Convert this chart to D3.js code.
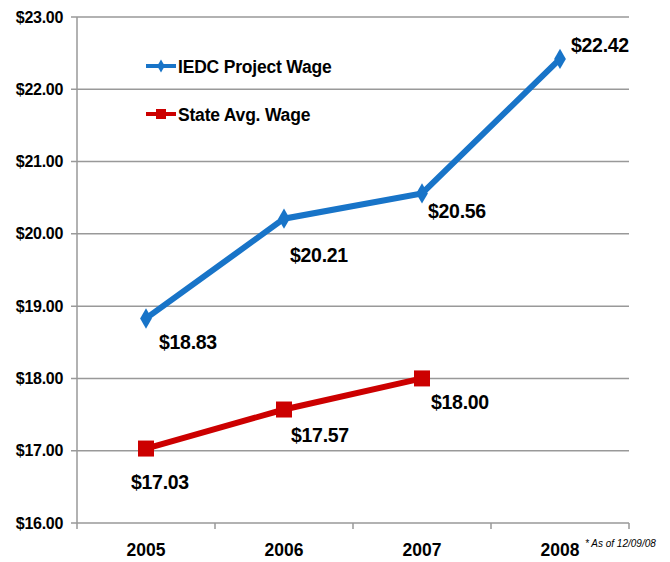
<!DOCTYPE html>
<html><head><meta charset="utf-8">
<script src="https://cdn.jsdelivr.net/npm/d3@7"></script>
<style>body{margin:0;background:#fff}svg{display:block}text{font-family:"Liberation Sans",Arial,sans-serif}</style>
</head><body><svg id="c" width="670" height="562"></svg>
<script>
const years = ["2005","2006","2007","2008"];
const iedcWage = [18.83, 20.21, 20.56, 22.42];
const stateWage = [17.03, 17.57, 18.00];
const yTicks = [16,17,18,19,20,21,22,23];
const seriesNames = ["IEDC Project Wage","State Avg. Wage"];

const svg = d3.select("#c");
const x = d3.scaleBand().domain(years).range([77,629]);
const y = d3.scaleLinear().domain([16,23]).range([523,17]);
const cx = d => x(d) + x.bandwidth()/2;

svg.append("g").selectAll("line").data(yTicks).join("line")
  .attr("x1",71).attr("x2",629).attr("y1",d=>y(d)).attr("y2",d=>y(d))
  .attr("stroke","#999").attr("stroke-width",1.5);
svg.append("line").attr("x1",77).attr("x2",77).attr("y1",y(23)).attr("y2",y(16)+6)
  .attr("stroke","#999").attr("stroke-width",1.5);
svg.append("g").selectAll("line").data(years).join("line")
  .attr("x1",d=>x(d)+x.bandwidth()).attr("x2",d=>x(d)+x.bandwidth())
  .attr("y1",y(16)).attr("y2",y(16)+6).attr("stroke","#999").attr("stroke-width",1.5);
svg.append("g").selectAll("text").data(yTicks).join("text")
  .attr("x",63).attr("y",d=>y(d)+5.5).attr("text-anchor","end")
  .attr("font-size",16).attr("font-weight","bold").attr("letter-spacing","-0.3")
  .text(d=>"$"+d.toFixed(2));
svg.append("g").selectAll("text").data(years).join("text")
  .attr("x",d=>cx(d)).attr("y",556).attr("text-anchor","middle")
  .attr("font-size",17.5).attr("font-weight","bold")
  .text(d=>d);
svg.append("text").attr("x",585).attr("y",547).attr("font-size",10).attr("font-style","italic")
  .text("* As of 12/09/08");

const line = d3.line().x(d=>cx(d.yr)).y(d=>y(d.v));
const blue = "#1874C8", red = "#CC0000";
const iedc = iedcWage.map((v,i)=>({yr:years[i],v}));
const state = stateWage.map((v,i)=>({yr:years[i],v}));

svg.append("path").datum(state).attr("d",line).attr("fill","none").attr("stroke",red).attr("stroke-width",6);
svg.append("g").selectAll("rect").data(state).join("rect")
  .attr("x",d=>cx(d.yr)-8).attr("y",d=>y(d.v)-8).attr("width",16).attr("height",16).attr("fill",red);

svg.append("path").datum(iedc).attr("d",line).attr("fill","none").attr("stroke",blue).attr("stroke-width",6);
svg.append("g").selectAll("path.m").data(iedc).join("path").attr("class","m")
  .attr("d",d3.symbol(d3.symbolDiamond,120)).attr("transform",d=>`translate(${cx(d.yr)},${y(d.v)})`).attr("fill",blue);

const iedcOff = [[13,31],[6,43],[6,25],[11,-7]];
const stateOff = [[-15,40],[7,32],[9,31]];
svg.append("g").selectAll("text").data(iedc).join("text")
  .attr("x",(d,i)=>cx(d.yr)+iedcOff[i][0]).attr("y",(d,i)=>y(d.v)+iedcOff[i][1])
  .attr("font-size",19.5).attr("font-weight","bold").attr("letter-spacing","-0.3")
  .text(d=>"$"+d.v.toFixed(2));
svg.append("g").selectAll("text").data(state).join("text")
  .attr("x",(d,i)=>cx(d.yr)+stateOff[i][0]).attr("y",(d,i)=>y(d.v)+stateOff[i][1])
  .attr("font-size",19.5).attr("font-weight","bold").attr("letter-spacing","-0.3")
  .text(d=>"$"+d.v.toFixed(2));

const leg = [{n:seriesNames[0],c:blue,s:"d",y:66},{n:seriesNames[1],c:red,s:"s",y:114}];
const lg = svg.append("g");
leg.forEach(l=>{
  lg.append("line").attr("x1",146).attr("x2",176).attr("y1",l.y).attr("y2",l.y).attr("stroke",l.c).attr("stroke-width",4);
  if(l.s==="d") lg.append("path").attr("d",d3.symbol(d3.symbolDiamond,50)).attr("transform",`translate(161,${l.y})`).attr("fill",l.c);
  else lg.append("rect").attr("x",156).attr("y",l.y-5).attr("width",10).attr("height",10).attr("fill",l.c);
  lg.append("text").attr("x",178).attr("y",l.y+7).attr("font-size",17.5).attr("font-weight","bold").attr("letter-spacing","-0.2").text(l.n);
});
</script></body></html>
